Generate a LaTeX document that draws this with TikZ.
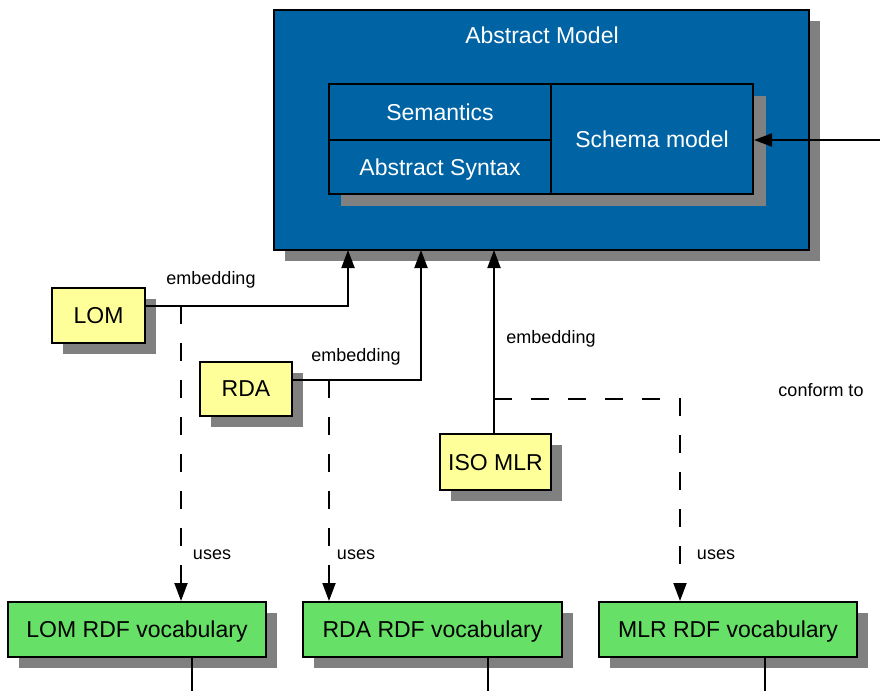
\documentclass[tikz,border=0pt]{standalone}
\usepackage{fontspec}
\setmainfont{Liberation Sans}
\usetikzlibrary{arrows.meta,shadows}
\definecolor{amblue}{RGB}{0,99,164}
\definecolor{shgray}{RGB}{128,128,128}
\definecolor{ylw}{RGB}{255,255,153}
\definecolor{grn}{RGB}{102,224,102}
\tikzset{
  bigtext/.style={font=\fontsize{23}{27}\selectfont, text depth=0pt},
  smalltext/.style={font=\fontsize{18}{21}\selectfont, inner sep=0pt},
  shad/.style={drop shadow={shadow xshift=11pt, shadow yshift=-11pt, fill=shgray, opacity=1}},
  bluebox/.style={draw=black, line width=2pt, fill=amblue, text=white, bigtext, inner sep=0pt},
  ybox/.style={draw=black, line width=2pt, fill=ylw, bigtext, inner sep=0pt, shad},
  gbox/.style={draw=black, line width=2pt, fill=grn, bigtext, inner sep=0pt, shad},
  conn/.style={line width=2pt},
  arr/.style={conn, -{Triangle[length=18pt,width=13pt]}},
  dconn/.style={arr, dash pattern=on 18pt off 19pt}
}
\begin{document}
\begin{tikzpicture}[x=1pt,y=-1pt]
\useasboundingbox (0,0) rectangle (880,691);
% Abstract model
\node[bluebox, shad, minimum width=535pt, minimum height=240pt] (am) at (541.5,130) {};
\node[text=white, bigtext] (amt) at (542,35) {Abstract Model};
\fill[shgray] (341,96) rectangle (766,206);
\node[bluebox, minimum width=222pt, minimum height=56pt] (sem) at (440,112) {Semantics};
\node[bluebox, minimum width=222pt, minimum height=54pt] (syn) at (440,167) {Abstract Syntax};
\node[bluebox, minimum width=202pt, minimum height=110pt] (sch) at (652,139) {Schema model};
\coordinate (ext) at (880,140);
\draw[arr] (ext) -- (sch.east |- ext);
% sources
\node[ybox, minimum width=93pt, minimum height=55pt] (lom) at (98.5,315.5) {LOM};
\node[ybox, minimum width=92pt, minimum height=54pt] (rda) at (246,389) {RDA};
\node[ybox, minimum width=111pt, minimum height=56pt] (iso) at (495.5,462) {ISO MLR};
% targets
\node[gbox, minimum width=258pt, minimum height=55pt] (lomrdf) at (137,629.5) {LOM RDF vocabulary};
\node[gbox, minimum width=259pt, minimum height=55pt] (rdardf) at (432.5,629.5) {RDA RDF vocabulary};
\node[gbox, minimum width=258pt, minimum height=55pt] (mlrrdf) at (728,629.5) {MLR RDF vocabulary};
% junctions
\coordinate (j1) at (181,306);
\coordinate (j2) at (329,380);
\coordinate (j3) at (494,399);
\coordinate (k3) at (680,399);
% embedding connectors
\coordinate (a1) at (348,250);
\coordinate (a2) at (421,250);
\coordinate (a3) at (494,250);
\draw[arr] (lom.east |- j1) -| (a1);
\draw[arr] (rda.east |- j2) -| (a2);
\draw[arr] (iso.north -| a3) -- (a3);
\draw[dconn] (j1) -- (j1 |- lomrdf.north);
\draw[dconn] (j2) -- (j2 |- rdardf.north);
\draw[dconn] (j3) -- (k3) -- (k3 |- mlrrdf.north);
% bottom stubs
\coordinate (b1) at (192,691);
\coordinate (b2) at (488,691);
\coordinate (b3) at (765,691);
\draw[conn] (b1 |- lomrdf.south) -- (b1);
\draw[conn] (b2 |- rdardf.south) -- (b2);
\draw[conn] (b3 |- mlrrdf.south) -- (b3);
% labels
\node[smalltext] (l1) at (211,280) {embedding};
\node[smalltext] (l2) at (356,357) {embedding};
\node[smalltext] (l3) at (551,339) {embedding};
\node[smalltext] (l4) at (821,390) {conform to};
\node[smalltext] (u1) at (212,555) {uses};
\node[smalltext] (u2) at (356,555) {uses};
\node[smalltext] (u3) at (716,555) {uses};
\end{tikzpicture}
\end{document}
